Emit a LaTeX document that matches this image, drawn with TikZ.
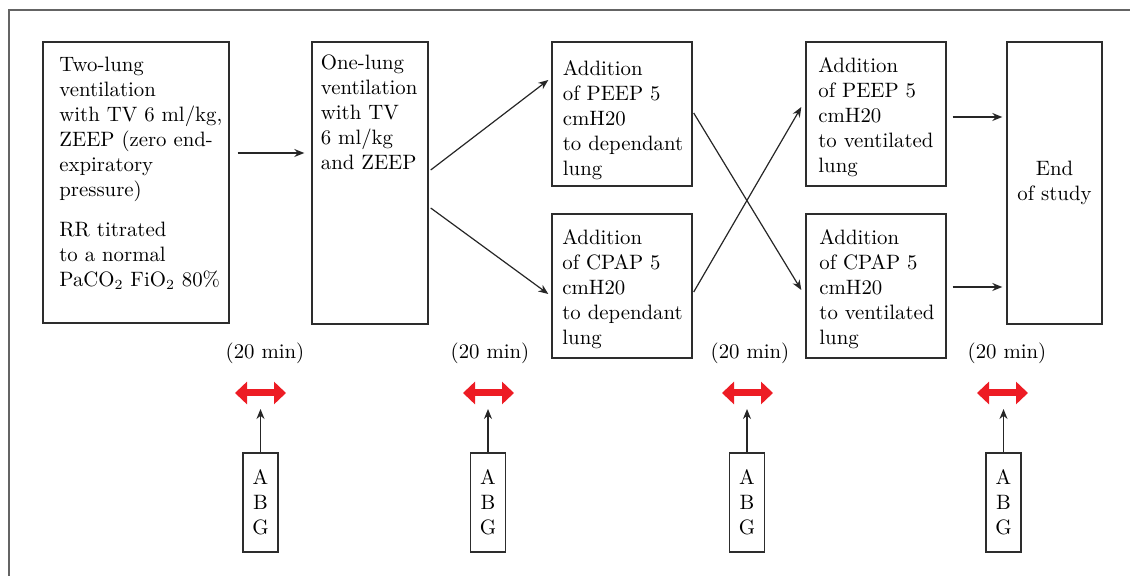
\documentclass[tikz,border=0pt]{standalone}
\usepackage{tikz}
\usepackage{color}
\usetikzlibrary{calc,arrows.meta}
\definecolor{framegray}{RGB}{100,100,100}
\definecolor{boxgray}{RGB}{45,45,45}
\definecolor{timered}{RGB}{237,28,36}
\tikzset{
  stage/.style={draw=boxgray,line width=0.7pt,rectangle,inner sep=0pt},
  stagetext/.style={anchor=north west,align=left,inner sep=0pt},
  flow/.style={draw=black!85,line width=0.6pt,-{Stealth[length=5pt,width=4pt]}},
  timearrow/.style={draw=timered,line width=3.5pt,{Triangle[length=6pt,width=11pt]}-{Triangle[length=6pt,width=11pt]}},
  abgbox/.style={draw=boxgray,line width=0.7pt,rectangle,align=center,inner sep=0pt,minimum width=17.5pt,minimum height=49.5pt}
}

\begin{document}
\begin{tikzpicture}[x=0.5pt,y=-0.5pt,font=\fontsize{10.4}{12.5}\selectfont]
  \useasboundingbox (0,0) rectangle (1130,576);
  \draw[framegray,line width=1pt] (8.5,576) -- (8.5,10.5) -- (1130,10.5);
  % stages
  \node[stage,minimum width=93pt,minimum height=140.5pt] (two) at (136,182.5) {};
  \node[stagetext] (t1) at (59,57) {Two-lung\\ventilation\\with TV 6 ml/kg,\\ZEEP (zero end-\\expiratory\\pressure)\\[7.5pt]RR titrated\\to a normal\\PaCO$_2$ FiO$_2$ 80\%};
  \node[stage,minimum width=58pt,minimum height=141pt] (one) at (370,183) {};
  \node[stagetext] (t2) at (320.5,54) {One-lung\\ventilation\\with TV\\6 ml/kg\\and ZEEP};
  \node[stage,minimum width=70pt,minimum height=72pt] (pd) at (622,114) {};
  \node[stagetext] (t3) at (562.5,59.8) {Addition\\of PEEP 5\\cmH20\\to dependant\\lung};
  \node[stage,minimum width=70pt,minimum height=72pt] (cd) at (622,286) {};
  \node[stagetext] (t4) at (562,228.8) {Addition\\of CPAP 5\\cmH20\\to dependant\\lung};
  \node[stage,minimum width=70pt,minimum height=72pt] (pv) at (876,114) {};
  \node[stagetext] (t5) at (818,57.3) {Addition\\of PEEP 5\\cmH20\\to ventilated\\lung};
  \node[stage,minimum width=70pt,minimum height=72pt] (cv) at (876,286) {};
  \node[stagetext] (t6) at (819,228.8) {Addition\\of CPAP 5\\cmH20\\to ventilated\\lung};
  \node[stage,align=center,minimum width=47.5pt,minimum height=141pt] (fin) at (1054.5,183) {End\\of study};
  % transitions
  \draw[flow] ($(two.east)+(8,-29.5)$) -- ($(one.west)+(-7,-30)$);
  \draw[flow] ($(one.east)+(2,-13)$) -- ($(pd.west)+(-3,-34)$);
  \draw[flow] ($(one.east)+(2,25)$) -- ($(cd.west)+(-3,8)$);
  \draw[flow] ($(pd.east)+(1,-1)$) -- ($(cv.west)+(-4,4)$);
  \draw[flow] ($(cd.east)+(1,6)$) -- ($(pv.west)+(-4,-7)$);
  \draw[flow] ($(pv.east)+(6,3)$) -- ($(fin.west)+(-4,-66)$);
  \draw[flow] ($(cv.east)+(6,1)$) -- ($(fin.west)+(-4,104)$);
  % timing and blood gases
  \node (m1) at (265,353) {(20 min)};
  \coordinate (r1l) at (235,393);
  \coordinate (r1r) at (286,393);
  \draw[timearrow] (r1l) -- (r1r);
  \coordinate (g1) at (260.5,409);
  \node[abgbox] (a1) at (260.5,502.5) {A\\B\\G};
  \draw[flow] (a1) -- (g1);
  \node (m2) at (490,353) {(20 min)};
  \coordinate (r2l) at (463,393);
  \coordinate (r2r) at (514,393);
  \draw[timearrow] (r2l) -- (r2r);
  \coordinate (g2) at (488,409);
  \node[abgbox] (a2) at (488,502.5) {A\\B\\G};
  \draw[flow] (a2) -- (g2);
  \node (m3) at (750,353) {(20 min)};
  \coordinate (r3l) at (722,393);
  \coordinate (r3r) at (773,393);
  \draw[timearrow] (r3l) -- (r3r);
  \coordinate (g3) at (747,409);
  \node[abgbox] (a3) at (747,502.5) {A\\B\\G};
  \draw[flow] (a3) -- (g3);
  \node (m4) at (1007,353) {(20 min)};
  \coordinate (r4l) at (977,393);
  \coordinate (r4r) at (1028,393);
  \draw[timearrow] (r4l) -- (r4r);
  \coordinate (g4) at (1003.5,409);
  \node[abgbox] (a4) at (1003.5,502.5) {A\\B\\G};
  \draw[flow] (a4) -- (g4);
\end{tikzpicture}
\end{document}
